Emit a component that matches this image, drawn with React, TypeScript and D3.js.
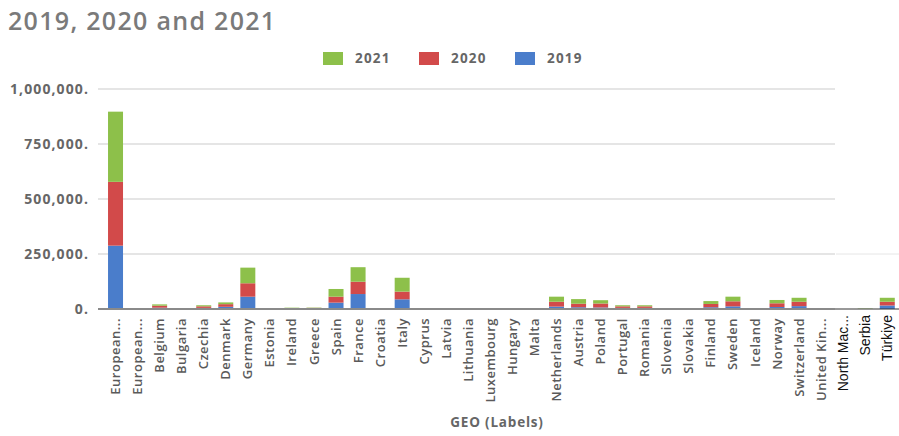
import React from "react";
import * as d3 from "d3";

const categories = [
  "European...", "European...", "Belgium", "Bulgaria", "Czechia", "Denmark", "Germany", "Estonia",
  "Ireland", "Greece", "Spain", "France", "Croatia", "Italy", "Cyprus", "Latvia", "Lithuania",
  "Luxembourg", "Hungary", "Malta", "Netherlands", "Austria", "Poland", "Portugal", "Romania",
  "Slovenia", "Slovakia", "Finland", "Sweden", "Iceland", "Norway", "Switzerland", "United Kin...",
  "North Mac...", "Serbia", "Türkiye",
];
const v2019 = [288000, 1000, 6000, 1500, 5000, 10000, 56000, 1000, 2000, 2000, 29000, 68000, 1500, 44000, 500, 1000, 1000, 1000, 1000, 500, 11000, 8000, 7000, 5000, 5000, 1500, 1500, 8000, 12000, 1000, 9000, 13000, 1000, 0, 0, 16000];
const v2020 = [290000, 1000, 9000, 1000, 7000, 12000, 61000, 1500, 2000, 3000, 27000, 56000, 2000, 35000, 500, 1500, 1000, 1000, 1500, 500, 22000, 16000, 18000, 7000, 7000, 2000, 1500, 15000, 23000, 2000, 17000, 20000, 1000, 0, 0, 17000];
const v2021 = [319000, 1000, 6000, 1000, 5000, 8000, 71000, 500, 2000, 1500, 35000, 66000, 1000, 63000, 1500, 500, 1000, 1000, 1000, 500, 23000, 21000, 15000, 5000, 5000, 1000, 1000, 13000, 21000, 500, 15000, 18000, 500, 0, 1500, 18000];
const yTicks = [0, 250000, 500000, 750000, 1000000];
const seriesKeys = ["2019", "2020", "2021"];
const legendOrder = ["2021", "2020", "2019"];
const colors: Record<string, string> = { "2019": "#4A7DCB", "2020": "#D24A4A", "2021": "#8DC04A" };
const blackLabels = ["North Mac...", "Serbia", "Türkiye"];

export default function App() {
  const W = 899, H = 436;
  const rows = categories.map((c, i) => ({ cat: c, idx: String(i), "2019": v2019[i], "2020": v2020[i], "2021": v2021[i] }));
  const stack = d3.stack<any>().keys(seriesKeys)(rows);
  const x = d3.scaleBand<string>().domain(rows.map((r) => r.idx)).range([104.5, 104.5 + 36 * 22.05]).paddingInner(0.32).paddingOuter(0.16);
  const y = d3.scaleLinear().domain([0, 1000000]).range([309, 89]);
  const fmt = d3.format(",");
  const font = "'Open Sans', 'DejaVu Sans', sans-serif";
  const legendX = [323, 419, 515];
  return (
    <svg width={W} height={H} style={{ position: "absolute", left: 0, top: 0, background: "#fff" }} fontFamily={font}>
      <text x={8} y={30} fontSize={25} fontWeight={600} fill="#7a7a7a" letterSpacing={1.3}>2019, 2020 and 2021</text>
      {legendOrder.map((k, i) => (
        <g key={k}>
          <rect x={legendX[i]} y={52} width={20} height={13} fill={colors[k]} />
          <text x={legendX[i] + 32} y={63} fontSize={13.5} fontWeight={700} fill="#666" letterSpacing={1.2}>{k}</text>
        </g>
      ))}
      {yTicks.map((t) => (
        <g key={t}>
          {t > 0 && <line x1={98} x2={835} y1={y(t)} y2={y(t)} stroke="#dcdcdc" strokeWidth={1.5} />}
          <text x={89} y={y(t) + 5} textAnchor="end" fontSize={14} fontWeight={700} fill="#666" letterSpacing={1.1}>{fmt(t) + "."}</text>
        </g>
      ))}
      <line x1={836} x2={899} y1={y(250000)} y2={y(250000)} stroke="#e6e6e6" strokeWidth={1} />
      {stack.map((s) => (
        <g key={s.key} fill={colors[s.key]}>
          {s.map((d: any, i: number) => (
            <rect key={i} x={x(String(i))} width={x.bandwidth()} y={y(d[1])} height={Math.max(0, y(d[0]) - y(d[1]))} />
          ))}
        </g>
      ))}
      <line x1={98} x2={835} y1={309} y2={309} stroke="#8a8a8a" strokeWidth={2} />
      <line x1={835} x2={899} y1={309} y2={309} stroke="#333" strokeWidth={1} />
      {categories.map((c, i) => {
        const cx = (x(String(i)) as number) + x.bandwidth() / 2;
        const black = blackLabels.includes(c) && i >= 33;
        return (
          <text key={i} transform={`translate(${cx},${black ? 315 : 318}) rotate(-90)`} dy="0.35em" textAnchor="end"
            fontSize={black ? 14 : 13} fontWeight={black ? 400 : 600} fill={black ? "#111" : "#5a5a5a"}
            letterSpacing={black ? 0 : 0.5}
            fontFamily={black ? "'Liberation Sans', 'DejaVu Sans', sans-serif" : font}>{c}</text>
        );
      })}
      <text x={497} y={427} textAnchor="middle" fontSize={13.5} fontWeight={700} fill="#666" letterSpacing={0.8}>GEO (Labels)</text>
    </svg>
  );
}
